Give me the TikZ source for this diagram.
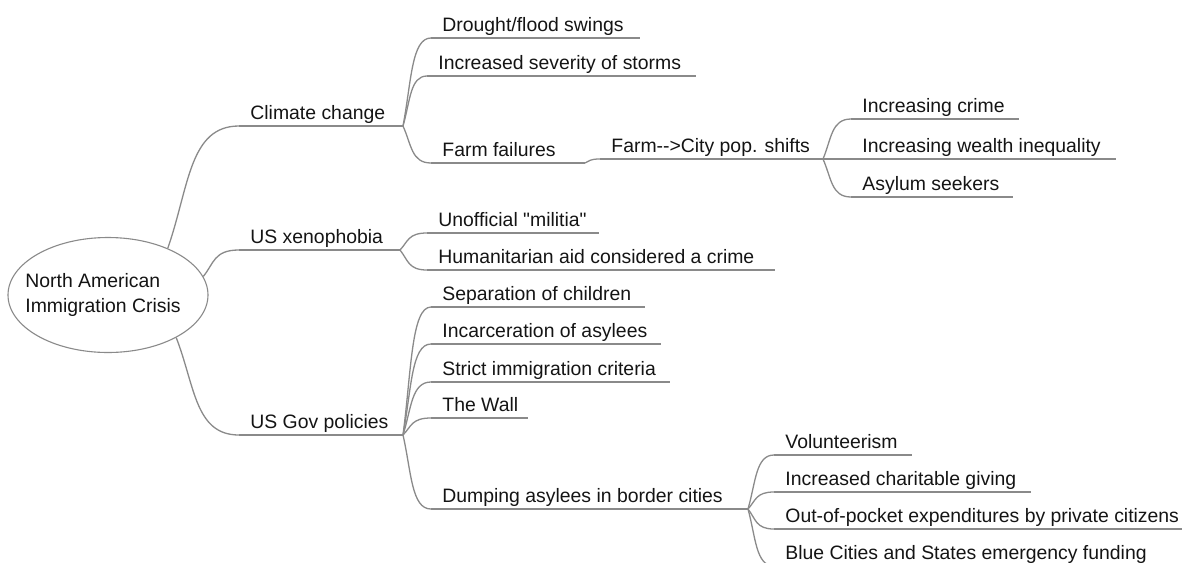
\documentclass[tikz,border=0pt]{standalone}
\usepackage{fontspec}
\newfontfamily\mmfont{Liberation Sans}
\usetikzlibrary{calc,shapes.geometric}
\definecolor{mmgray}{RGB}{138,138,138}
\definecolor{mmtext}{RGB}{20,20,20}
\tikzset{
 mmline/.style={draw=mmgray, line width=0.65pt},
 topic/.style={anchor=base west, inner sep=0pt, text=mmtext, font=\mmfont\fontsize{9.7}{11}\selectfont},
 rootshape/.style={ellipse, draw=mmgray, line width=0.55pt, fill=white, minimum width=100pt, minimum height=57.5pt, inner sep=0pt},
 roottext/.style={anchor=west, align=left, inner sep=0pt, text=mmtext, font=\mmfont\fontsize{9.7}{12.5}\selectfont}
}
\pgfkeys{
 /mmTopic/.is family, /mmTopic,
 name/.estore in = \mtName,
 len/.estore in = \mtLen,
 text/.estore in = \mtText,
 default/.style = {name=defaultname, len=100, text={}}
}
\newcommand{\mmTopic}[2][]{
    \pgfkeys{/mmTopic, default, #1}%
    \coordinate (\mtName_l) at #2;
    \coordinate (\mtName_r) at ($#2 + (\mtLen, 0)$);
    \node[topic] (\mtName) at ($#2 + (11, 6.3)$) {\mtText};
    \draw[mmline] (\mtName_l) -- (\mtName_r);
}
\newcommand{\mmBranch}[2]{
    \draw[mmline] let \p1 = (#1), \p2 = (#2) in
        (\p1) .. controls ({\x1+0.3*(\x2-\x1)}, {\y1+0.5*(\y2-\y1)})
        and ({\x1+0.3*(\x2-\x1)}, \y2) .. (\p2);
}

\begin{document}
\begin{tikzpicture}[x=0.5pt, y=0.5pt]
    \clip (0, 0) rectangle (1182, -562);
    \node[rootshape] (root) at (108, -295) {};
    \node[roottext] (roottxt) at (25, -295) {North American\\Immigration Crisis};

    \mmTopic[name=climate, len=164, text=Climate change]{(239, -126)}
    \mmTopic[name=xeno, len=161, text=US xenophobia]{(239, -250)}
    \mmTopic[name=gov, len=164, text=US Gov policies]{(239, -435)}
    \mmBranch{root.38}{climate_l}
    \mmBranch{root.11}{xeno_l}
    \mmBranch{root.-32}{gov_l}

    \mmTopic[name=drought, len=209, text=Drought/flood swings]{(431, -38)}
    \mmTopic[name=storms, len=269, text=Increased severity of storms]{(427, -76)}
    \mmTopic[name=farm, len=154, text=Farm failures]{(431, -163)}
    \mmBranch{climate_r}{drought_l}
    \mmBranch{climate_r}{storms_l}
    \mmBranch{climate_r}{farm_l}

    \mmTopic[name=city, len=223, text=Farm-->City pop. shifts]{(600, -159)}
    \mmBranch{farm_r}{city_l}
    \mmTopic[name=crime, len=168, text=Increasing crime]{(851, -119)}
    \mmTopic[name=wealth, len=265, text=Increasing wealth inequality]{(851, -159)}
    \mmTopic[name=asylum, len=162, text=Asylum seekers]{(851, -197)}
    \mmBranch{city_r}{crime_l}
    \mmBranch{city_r}{wealth_l}
    \mmBranch{city_r}{asylum_l}

    \mmTopic[name=militia, len=172, text=Unofficial "militia"]{(427, -233)}
    \mmTopic[name=aid, len=348, text=Humanitarian aid considered a crime]{(427, -270)}
    \mmBranch{xeno_r}{militia_l}
    \mmBranch{xeno_r}{aid_l}

    \mmTopic[name=separation, len=214, text=Separation of children]{(431, -307)}
    \mmTopic[name=incarceration, len=230, text=Incarceration of asylees]{(431, -344)}
    \mmTopic[name=strict, len=239, text=Strict immigration criteria]{(431, -382)}
    \mmTopic[name=wall, len=97, text=The Wall]{(431, -418)}
    \mmTopic[name=dumping, len=317, text=Dumping asylees in border cities]{(431, -509)}
    \mmBranch{gov_r}{separation_l}
    \mmBranch{gov_r}{incarceration_l}
    \mmBranch{gov_r}{strict_l}
    \mmBranch{gov_r}{wall_l}
    \mmBranch{gov_r}{dumping_l}

    \mmTopic[name=volunteer, len=138, text=Volunteerism]{(774, -455)}
    \mmTopic[name=charitable, len=257, text=Increased charitable giving]{(774, -492)}
    \mmTopic[name=pocket, len=408, text=Out-of-pocket expenditures by private citizens]{(774, -529)}
    \mmTopic[name=blue, len=401, text=Blue Cities and States emergency funding]{(774, -566)}
    \mmBranch{dumping_r}{volunteer_l}
    \mmBranch{dumping_r}{charitable_l}
    \mmBranch{dumping_r}{pocket_l}
    \mmBranch{dumping_r}{blue_l}
\end{tikzpicture}
\end{document}
